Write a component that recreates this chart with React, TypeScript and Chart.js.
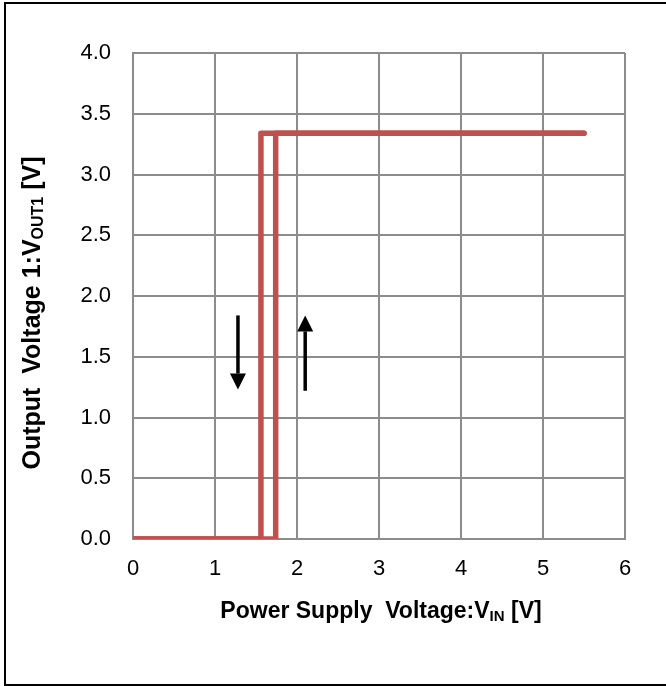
import React, { useEffect, useRef } from "react";
import { Chart, registerables } from "chart.js";

Chart.register(...registerables);

// Rising sweep (VIN increasing)
const riseX = [0, 1.74, 1.74, 5.5];
const riseY = [0, 0, 3.34, 3.34];
// Falling sweep (VIN decreasing)
const fallX = [5.5, 1.56, 1.56, 0];
const fallY = [3.34, 3.34, 0, 0];

// Arrows: x position, start value, end (tip) value
const arrowX = [1.28, 2.1];
const arrowFrom = [1.84, 1.22];
const arrowTo = [1.23, 1.84];

const xTitleParts = [
  { text: "Power Supply  Voltage:V", sub: false },
  { text: "IN", sub: true },
  { text: " [V]", sub: false },
];
const yTitleParts = [
  { text: "Output  Voltage 1:V", sub: false },
  { text: "OUT1", sub: true },
  { text: " [V]", sub: false },
];

const FONT = "'Liberation Sans', Arial, sans-serif";
const RED = "#C0504D";
const GRID = "#8C8C8C";

function drawRich(
  ctx: CanvasRenderingContext2D,
  parts: { text: string; sub: boolean }[],
  cx: number,
  cy: number,
  rotate: boolean,
  size: number,
  subSize: number
) {
  const main = `bold ${size}px ${FONT}`;
  const small = `bold ${subSize}px ${FONT}`;
  let total = 0;
  const widths = parts.map((p) => {
    ctx.font = p.sub ? small : main;
    const w = ctx.measureText(p.text).width;
    total += w;
    return w;
  });
  ctx.save();
  ctx.translate(cx, cy);
  if (rotate) ctx.rotate(-Math.PI / 2);
  ctx.fillStyle = "#000";
  ctx.textBaseline = "alphabetic";
  ctx.textAlign = "left";
  let x = -total / 2;
  parts.forEach((p, i) => {
    ctx.font = p.sub ? small : main;
    ctx.fillText(p.text, x, p.sub ? 3 : 0);
    x += widths[i];
  });
  ctx.restore();
}

const decorPlugin = {
  id: "decor",
  beforeDraw(chart: any) {
    const ctx = chart.ctx as CanvasRenderingContext2D;
    ctx.save();
    ctx.fillStyle = "#fff";
    ctx.fillRect(0, 0, chart.width, chart.height);
    ctx.strokeStyle = "#000";
    ctx.lineWidth = 2;
    ctx.strokeRect(5, 3, 720, 682);
    ctx.restore();
  },
  afterDatasetsDraw(chart: any) {
    const ctx = chart.ctx as CanvasRenderingContext2D;
    const xs = chart.scales.x;
    const ys = chart.scales.y;
    ctx.save();
    ctx.fillStyle = "#000";
    ctx.strokeStyle = "#000";
    arrowX.forEach((ax, i) => {
      const px = xs.getPixelForValue(ax);
      const y0 = ys.getPixelForValue(arrowFrom[i]);
      const y1 = ys.getPixelForValue(arrowTo[i]);
      const dir = y1 > y0 ? 1 : -1;
      const head = 16;
      ctx.lineWidth = 3.5;
      ctx.beginPath();
      ctx.moveTo(px, y0);
      ctx.lineTo(px, y1 - dir * head);
      ctx.stroke();
      ctx.beginPath();
      ctx.moveTo(px, y1);
      ctx.lineTo(px - 8, y1 - dir * head);
      ctx.lineTo(px + 8, y1 - dir * head);
      ctx.closePath();
      ctx.fill();
    });
    ctx.restore();
  },
  afterDraw(chart: any) {
    const ctx = chart.ctx as CanvasRenderingContext2D;
    const ca = chart.chartArea;
    drawRich(ctx, xTitleParts, (ca.left + ca.right) / 2 + 2, 618, false, 23, 15);
    drawRich(ctx, yTitleParts, 40, 313, true, 25, 16);
  },
};

export default function App() {
  const ref = useRef<HTMLCanvasElement>(null);
  useEffect(() => {
    if (!ref.current) return;
    const lineDs = (xs: number[], ys: number[]) => ({
      data: xs.map((x, i) => ({ x, y: ys[i] })),
      showLine: true,
      borderColor: RED,
      backgroundColor: RED,
      borderWidth: 5.5,
      pointRadius: 0,
      borderJoinStyle: "round" as const,
      borderCapStyle: "round" as const,
      tension: 0,
    });
    const chart = new Chart(ref.current, {
      type: "scatter",
      data: { datasets: [lineDs(riseX, riseY), lineDs(fallX, fallY)] },
      options: {
        animation: false,
        responsive: false,
        devicePixelRatio: 1,
        layout: { padding: { top: 53, right: 41, left: 0, bottom: 0 } },
        plugins: { legend: { display: false }, tooltip: { enabled: false } },
        scales: {
          x: {
            type: "linear",
            min: 0,
            max: 6,
            afterFit: (s: any) => {
              s.height = 147;
            },
            ticks: {
              stepSize: 1,
              padding: 17,
              color: "#000",
              font: { family: FONT, size: 22 },
              maxRotation: 0,
            },
            grid: { color: GRID, lineWidth: 2, drawTicks: false },
            border: { color: GRID, width: 2 },
          },
          y: {
            type: "linear",
            min: 0,
            max: 4,
            afterFit: (s: any) => {
              s.width = 133;
            },
            ticks: {
              stepSize: 0.5,
              padding: 22,
              color: "#000",
              font: { family: FONT, size: 22 },
              callback: (v: any) => Number(v).toFixed(1),
            },
            grid: { color: GRID, lineWidth: 2, drawTicks: false },
            border: { color: GRID, width: 2 },
          },
        },
      },
      plugins: [decorPlugin],
    });
    return () => chart.destroy();
  }, []);
  return (
    <canvas
      ref={ref}
      width={666}
      height={686}
      style={{ position: "absolute", left: 0, top: 0, width: 666, height: 686 }}
    />
  );
}
